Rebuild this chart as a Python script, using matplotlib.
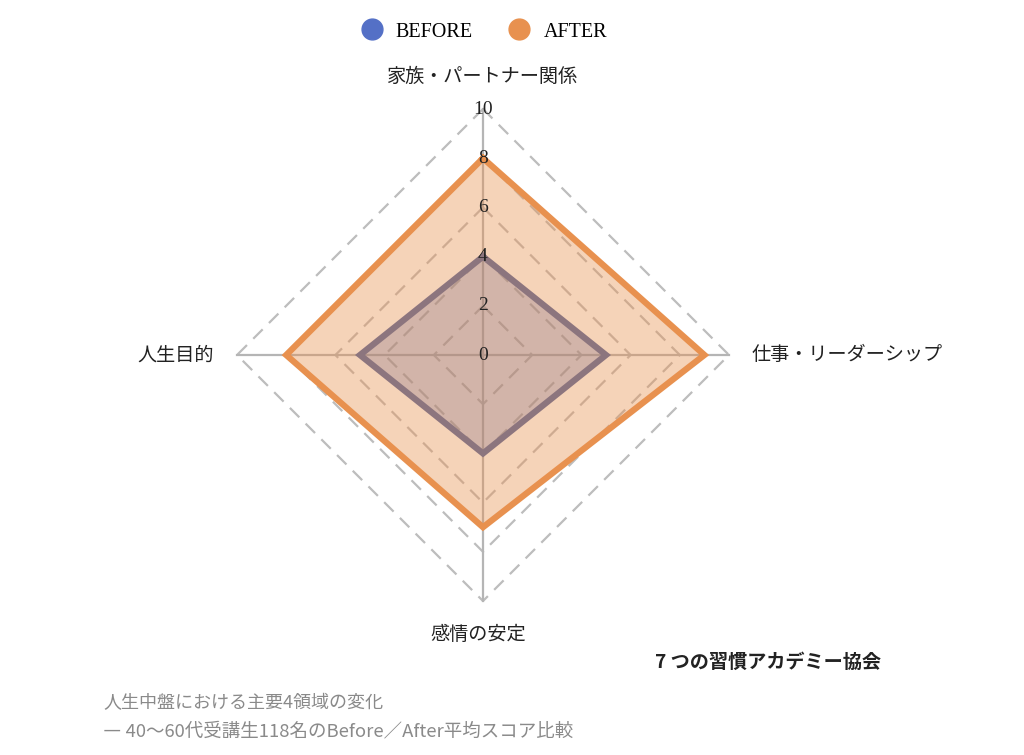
import numpy as np
import matplotlib
matplotlib.use('Agg')
import matplotlib.pyplot as plt
from matplotlib.lines import Line2D

plt.rcParams['font.family'] = ['Noto Sans CJK JP', 'DejaVu Sans']

# data
categories = ['家族・パートナー関係', '仕事・リーダーシップ', '感情の安定', '人生目的']
before = [4, 5, 4, 5]
after = [8, 9, 7, 8]
ticks = [0, 2, 4, 6, 8, 10]
series_names = ['BEFORE', 'AFTER']

c_before = '#5470c6'
c_after = '#e8914f'
serif = ['Liberation Serif', 'DejaVu Serif']

W, H = 1024, 755
fig = plt.figure(figsize=(W / 100, H / 100), dpi=100)

# center of radar at (483, 355) px, radius 10 -> ~246 px
cx, cy, R = 483, 355, 246
lim = 10.5
half = R * lim / 10
ax = fig.add_axes([(cx - half) / W, (H - cy - half) / H, 2 * half / W, 2 * half / H])
ax.set_xlim(-lim, lim)
ax.set_ylim(-lim, lim)
ax.axis('off')

# angles: top, right, bottom, left
ang = np.array([90, 0, -90, 180]) * np.pi / 180
cosa, sina = np.cos(ang), np.sin(ang)


def poly(vals):
    v = np.asarray(vals, float)
    x = v * cosa
    y = v * sina
    return np.append(x, x[0]), np.append(y, y[0])


# grid rings (dashed)
for t in ticks[1:]:
    gx, gy = poly([t] * 4)
    ax.plot(gx, gy, color='#bdbdbd', lw=1.6, ls=(0, (6, 4)), zorder=1)

# axis lines
for i in range(4):
    ax.plot([0, 10 * cosa[i]], [0, 10 * sina[i]], color='#b5b5b5', lw=1.6, zorder=1)

# series
bx, by = poly(before)
ax.fill(bx, by, color='#4f67b0', alpha=0.33, lw=0, zorder=2)
ax.plot(bx, by, color='#50639e', lw=4.5, solid_joinstyle='miter', zorder=2)

axx, ayy = poly(after)
ax.fill(axx, ayy, color=c_after, alpha=0.4, lw=0, zorder=3)
ax.plot(axx, ayy, color=c_after, lw=4.5, solid_joinstyle='miter', zorder=3)

# radial tick labels
for t in ticks:
    ax.text(0, t, str(t), ha='center', va='center', fontsize=14,
            family=serif, color='#222222', zorder=5)

# category labels
lab_style = dict(fontsize=13.8, color='#222222')
fig.text(cx / W, 1 - 76 / H, categories[0], ha='center', va='center', **lab_style)
fig.text(752 / W, 1 - 355 / H, categories[1], ha='left', va='center', **lab_style)
fig.text(478 / W, 1 - 635 / H, categories[2], ha='center', va='center', **lab_style)
fig.text(214 / W, 1 - 355 / H, categories[3], ha='right', va='center', **lab_style)

# legend
handles = [Line2D([], [], ls='none', marker='o', markersize=15, color=c)
           for c in [c_before, c_after]]
fig.legend(handles, series_names, loc='center', bbox_to_anchor=(0.468, 1 - 32 / H),
           ncol=2, frameon=False, handletextpad=0.2, columnspacing=1.3,
           prop={'family': serif, 'size': 14.5})

# org name
fig.text(655 / W, 1 - 662 / H, '7 つの習慣アカデミー協会', ha='left', va='center',
         fontsize=13.8, fontweight='bold', color='#222222')

# footer
fig.text(103 / W, 1 - 703 / H, '人生中盤における主要4領域の変化', ha='left', va='center',
         fontsize=13, color='#8a8a8a')
fig.text(103 / W, 1 - 731 / H, '― 40〜60代受講生118名のBefore／After平均スコア比較',
         ha='left', va='center', fontsize=13.3, color='#8a8a8a')

fig.savefig('out.png', dpi=100)
